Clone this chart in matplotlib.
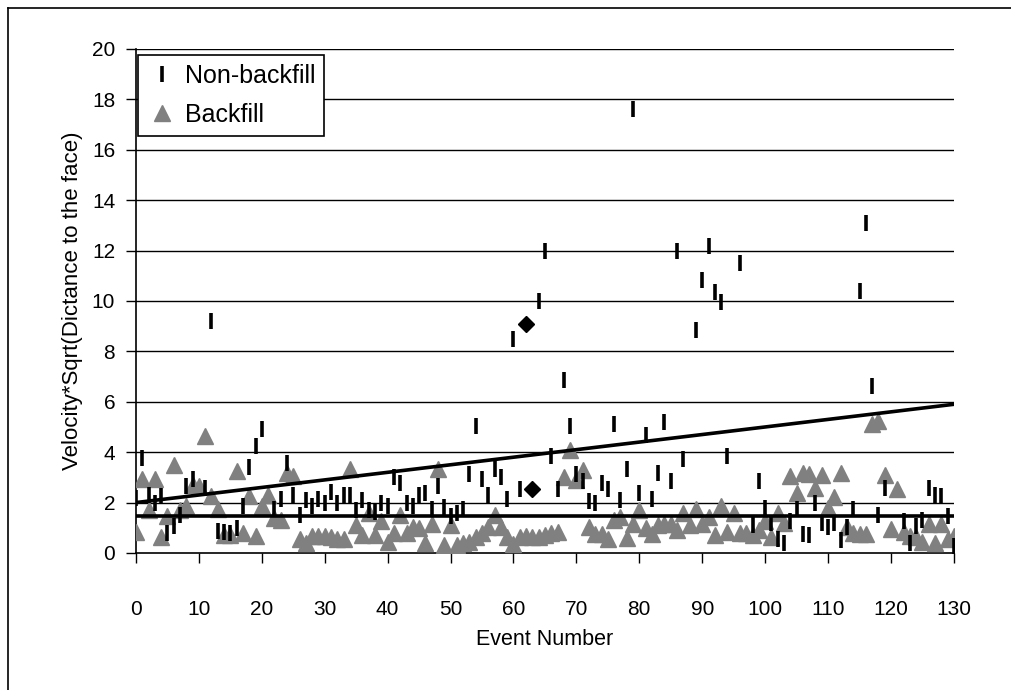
import matplotlib
matplotlib.use("Agg")
import matplotlib.pyplot as plt
from matplotlib.lines import Line2D

plt.rcParams['font.family'] = ['Liberation Sans', 'DejaVu Sans']

# Non-backfill events (event number, value)
nb_event = [0, 1, 2, 3, 4, 5, 6, 7, 8, 9, 11, 12, 13, 14, 15, 16, 17, 18, 19, 20,
            22, 23, 24, 25, 26, 27, 28, 29, 30, 31, 32, 33, 34, 35, 36, 37, 38, 39, 40,
            41, 42, 43, 44, 45, 46, 47, 48, 49, 50, 51, 52, 53, 54, 55, 56, 57, 58, 59,
            60, 61, 64, 65, 66, 67, 68, 69, 70, 71, 72, 73, 74, 75, 76, 77, 78, 79, 80,
            81, 82, 83, 84, 85, 86, 87, 89, 90, 91, 92, 93, 94, 96, 98, 99, 100, 101,
            102, 103, 104, 105, 106, 107, 108, 109, 110, 111, 112, 113, 114, 115, 116,
            117, 118, 119, 122, 123, 124, 125, 126, 127, 128, 129, 130]
nb_value = [2.2, 3.76, 2.32, 2.0, 2.28, 0.79, 1.08, 1.52, 2.65, 2.92, 2.59, 9.2, 0.89, 0.85,
            0.8, 1.0, 1.88, 3.43, 4.25, 4.9,
            1.75, 2.16, 3.59, 2.32, 1.52, 2.09, 1.85, 2.15, 1.99, 2.41, 1.99, 2.32, 2.32,
            1.69, 2.09, 1.69, 1.61, 1.99, 1.85,
            3.03, 2.79, 1.99, 1.85, 2.32, 2.39, 1.75, 2.65, 1.83, 1.45, 1.59, 1.75, 3.12,
            5.03, 2.95, 2.32, 3.35, 3.03, 2.15,
            8.5, 2.55, 10.0, 12.0, 3.83, 2.52, 6.85, 5.05, 3.12, 2.85, 2.05, 1.99, 2.79,
            2.55, 5.12, 2.09, 3.35, 17.6, 2.39,
            4.68, 2.15, 3.19, 5.19, 2.85, 12.0, 3.72, 8.84, 10.84, 12.2, 10.36, 9.96, 3.83,
            11.5, 1.1, 2.85, 1.79, 1.19,
            0.55, 0.39, 1.25, 1.75, 0.76, 0.7, 1.99, 1.19, 1.05, 1.19, 0.52, 1.05, 1.75,
            10.4, 13.1,
            6.63, 1.52, 2.59, 1.25, 0.41, 1.08, 1.32, 2.59, 2.32, 2.25, 1.48, 0.28]

# Backfill events: one value per event 0..130
bf_event = list(range(0, 131))
bf_value = [0.85, 2.95, 1.72, 2.95, 0.63, 1.45, 3.48, 1.69, 1.88, 2.68,
            2.65, 4.63, 2.28, 1.75, 0.72, 0.72, 3.25, 0.79, 2.25, 0.68,
            1.88, 2.32, 1.39, 1.32, 3.19, 3.05, 0.55, 0.39, 0.68, 0.68,
            0.68, 0.65, 0.55, 0.55, 3.35, 1.12, 0.72, 1.59, 0.72, 1.25,
            0.45, 0.79, 1.52, 0.79, 1.05, 0.99, 0.39, 1.16, 3.32, 0.32,
            1.12, 0.32, 0.39, 0.45, 0.65, 0.79, 1.05, 1.52, 1.05, 0.65,
            0.36, 0.65, 0.68, 0.63, 0.65, 0.72, 0.79, 0.82, 3.03, 4.09,
            2.89, 3.29, 1.05, 0.76, 0.76, 0.55, 1.32, 1.43, 0.59, 1.16,
            1.69, 0.99, 0.76, 1.12, 1.16, 1.16, 0.92, 1.59, 1.12, 1.75,
            1.16, 1.43, 0.72, 1.88, 0.85, 1.59, 0.79, 0.79, 0.72, 0.92,
            1.25, 0.65, 1.59, 1.19, 3.05, 2.39, 3.16, 3.12, 2.59, 3.08,
            1.79, 2.23, 3.16, 1.05, 0.79, 0.76, 0.76, 5.12, 5.25, 3.08,
            0.95, 2.55, 0.85, 0.68, 0.65, 0.45, 1.16, 0.39, 1.16, 0.55,
            0.68]

# highlighted events
hl_event = [62, 63]
hl_value = [9.1, 2.55]

# trend line and threshold
trend_x = [0, 130]
trend_y = [2.0, 5.9]
threshold = 1.45

fig = plt.figure(figsize=(10.11, 6.9), dpi=100)
ax = fig.add_axes([0.1345, 0.1986, 0.809, 0.7304])

for y in range(2, 21, 2):
    ax.axhline(y, color='black', lw=1.0, zorder=1)

ax.plot(bf_event, bf_value, linestyle='none', marker='^', markersize=11,
        color='#808080', label='Backfill', zorder=3)
ax.plot(nb_event, nb_value, linestyle='none', marker='|', markersize=11,
        markeredgewidth=2.6, color='black', label='Non-backfill', zorder=4)
ax.plot(hl_event, hl_value, linestyle='none', marker='D', markersize=8,
        color='black', zorder=5)
ax.plot(trend_x, trend_y, color='black', lw=2.6, zorder=4)
ax.axhline(threshold, color='black', lw=2.6, zorder=4)

ax.set_xlim(0, 130)
ax.set_ylim(0, 20)
ax.set_xticks(range(0, 131, 10))
ax.set_yticks(range(0, 21, 2))
ax.tick_params(direction='out', length=7, width=1, labelsize=15, color='black')
ax.tick_params(axis='x', pad=27)
ax.tick_params(axis='y', pad=8)
for side in ['top', 'right']:
    ax.spines[side].set_visible(False)
ax.spines['left'].set_linewidth(1.2)
ax.spines['bottom'].set_linewidth(1.2)

ax.set_xlabel('Event Number', fontsize=15.5, labelpad=7)
ax.set_ylabel('Velocity*Sqrt(Dictance to the face)', fontsize=16, labelpad=6)

handles, labels = ax.get_legend_handles_labels()
leg = ax.legend(handles[::-1], labels[::-1], loc='upper left',
                bbox_to_anchor=(0.0, 0.993), fontsize=18, frameon=True,
                fancybox=False, edgecolor='black', framealpha=1,
                borderpad=0.35, handletextpad=0.3, handlelength=1.2,
                labelspacing=0.6, borderaxespad=0.1)
leg.get_frame().set_linewidth(1.2)
leg.set_zorder(6)

# outer chart border
fig.add_artist(Line2D([8 / 1011, 8 / 1011], [0, 1 - 8 / 690], color='black', lw=1.2))
fig.add_artist(Line2D([8 / 1011, 1], [1 - 8 / 690, 1 - 8 / 690], color='black', lw=1.2))

fig.savefig('out.png', dpi=100)
